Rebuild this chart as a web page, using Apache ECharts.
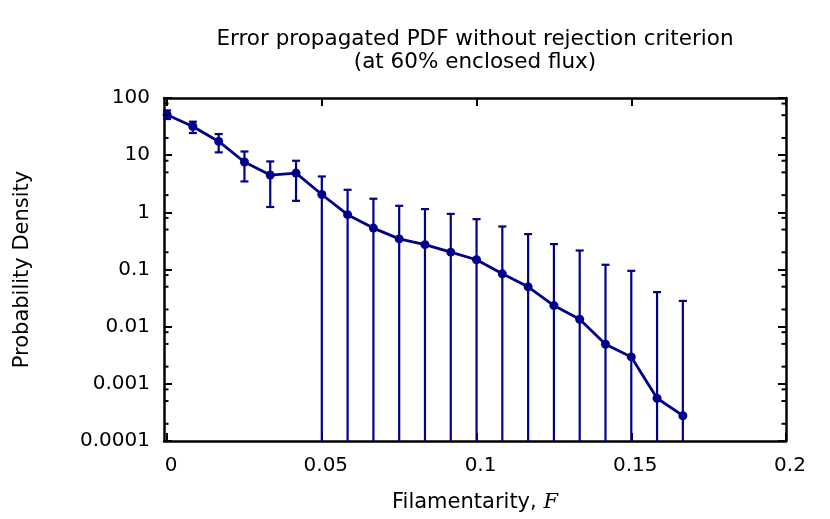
<!DOCTYPE html>
<html><head><meta charset="utf-8">
<script src="https://cdn.jsdelivr.net/npm/echarts@6/dist/echarts.min.js"></script>
<style>html,body{margin:0;padding:0;background:#fff}#c{width:830px;height:519px}</style>
</head><body><div id="c"></div>
<script>
// ---- data ----
const filamentarity = [0, 0.00833, 0.01667, 0.025, 0.03333, 0.04167, 0.05, 0.05833, 0.06667, 0.075, 0.08333,
  0.09167, 0.1, 0.10833, 0.11667, 0.125, 0.13333, 0.14167, 0.15, 0.15833, 0.16667];
const density = [51, 31.8, 17.4, 7.6, 4.49, 4.86, 2.05, 0.91, 0.53, 0.343, 0.272,
  0.201, 0.148, 0.084, 0.0497, 0.0234, 0.0135, 0.00493, 0.00296, 0.00056, 0.000277];
const upperBound = [60.7, 38.5, 23.4, 11.6, 7.77, 7.98, 4.24, 2.48, 1.73, 1.3, 1.14,
  0.94, 0.76, 0.565, 0.416, 0.278, 0.215, 0.121, 0.0948, 0.0402, 0.0282];
// null = lower error bound falls below the plotted range
const lowerBound = [42.9, 24.4, 11.2, 3.47, 1.24, 1.59, null, null, null, null, null,
  null, null, null, null, null, null, null, null, null, null];
const xTickValues = [0, 0.05, 0.1, 0.15, 0.2];
const xTickLabels = ['0', '0.05', '0.1', '0.15', '0.2'];
const yTickValues = [0.0001, 0.001, 0.01, 0.1, 1, 10, 100];
const yTickLabels = ['0.0001', '0.001', '0.01', '0.1', '1', '10', '100'];
const yMinorTicks = [0.0002, 0.0005, 0.0008, 0.002, 0.005, 0.008, 0.02, 0.05, 0.08,
  0.2, 0.5, 0.8, 2, 5, 8, 20, 50, 80];
const titleText = 'Error propagated PDF without rejection criterion\n(at 60% enclosed flux)';

const COLOR = '#00008b';
const FONT = 'DejaVu Sans';
const X_MIN = -0.001, X_MAX = 0.2, Y_MIN = 0.0001, Y_MAX = 100;

const chart = echarts.init(document.getElementById('c'), null, {renderer: 'canvas'});

function yLabel(v) {
  let best = 0, bd = Infinity;
  yTickValues.forEach((t, i) => { const d = Math.abs(Math.log10(t) - Math.log10(v)); if (d < bd) { bd = d; best = i; } });
  return yTickLabels[best];
}
function xLabel(v) {
  let best = 0, bd = Infinity;
  xTickValues.forEach((t, i) => { const d = Math.abs(t - v); if (d < bd) { bd = d; best = i; } });
  return xTickLabels[best];
}

const frameLine = {show: true, onZero: false, lineStyle: {color: '#000', width: 2.5}};

const option = {
  animation: false,
  backgroundColor: '#fff',
  graphic: [{
    type: 'text', x: 475, y: 28,
    style: {text: titleText, textAlign: 'center', textVerticalAlign: 'top',
      fontFamily: FONT, fontSize: 21.5, lineHeight: 23, fill: '#000'}
  }],
  grid: {left: 164, right: 44, top: 98, bottom: 78, containLabel: false},
  xAxis: [{
    type: 'value', position: 'bottom', min: X_MIN, max: X_MAX,
    axisLine: frameLine,
    axisTick: {show: true, inside: true, length: 8, customValues: xTickValues, lineStyle: {color: '#000', width: 2}},
    axisLabel: {show: true, customValues: xTickValues, formatter: xLabel, margin: 15,
      padding: [0, 0, 0, 8],
      fontFamily: FONT, fontSize: 20, color: '#000'},
    splitLine: {show: false},
    name: 'Filamentarity, {f|F}', nameLocation: 'middle', nameGap: 51,
    nameTextStyle: {fontFamily: FONT, fontSize: 21, color: '#000',
      rich: {f: {fontFamily: 'DejaVu Serif', fontStyle: 'italic', fontSize: 21, color: '#000'}}}
  }, {
    type: 'value', position: 'top', min: X_MIN, max: X_MAX,
    axisLine: frameLine,
    axisTick: {show: true, inside: true, length: 8, customValues: xTickValues, lineStyle: {color: '#000', width: 2}},
    axisLabel: {show: false}, splitLine: {show: false}
  }],
  yAxis: [{
    type: 'log', logBase: 10, position: 'left', min: Y_MIN, max: Y_MAX,
    axisLine: frameLine,
    axisTick: {show: true, inside: true, length: 8, lineStyle: {color: '#000', width: 2}},
    axisLabel: {show: true, formatter: yLabel, margin: 14, fontFamily: FONT, fontSize: 20, color: '#000'},
    minorTick: {show: false}, splitLine: {show: false},
    name: 'Probability Density', nameLocation: 'middle', nameGap: 131, nameRotate: 90,
    nameTextStyle: {fontFamily: FONT, fontSize: 21, color: '#000'}
  }, {
    type: 'log', logBase: 10, position: 'right', min: Y_MIN, max: Y_MAX,
    axisLine: frameLine,
    axisTick: {show: true, inside: true, length: 8, lineStyle: {color: '#000', width: 2}},
    axisLabel: {show: false}, splitLine: {show: false}
  }],
  series: [{
    // minor ticks on the log axis (at 2, 5, 8 per decade), left and right
    type: 'custom', xAxisIndex: 0, yAxisIndex: 0, silent: true, z: 5,
    data: yMinorTicks.map(v => [X_MIN, v]),
    encode: {x: 0, y: 1},
    renderItem: function (params, api) {
      const cs = params.coordSys;
      const y = api.coord([X_MIN, api.value(1)])[1];
      const st = {stroke: '#000', lineWidth: 2};
      return {type: 'group', children: [
        {type: 'line', shape: {x1: cs.x, y1: y, x2: cs.x + 4.5, y2: y}, style: st},
        {type: 'line', shape: {x1: cs.x + cs.width - 4.5, y1: y, x2: cs.x + cs.width, y2: y}, style: st}
      ]};
    }
  }, {
    // error bars
    type: 'custom', xAxisIndex: 0, yAxisIndex: 0, silent: true, z: 3,
    data: filamentarity.map((x, i) => [x, upperBound[i], lowerBound[i] == null ? '-' : lowerBound[i]]),
    encode: {x: 0, y: 1},
    renderItem: function (params, api) {
      const cs = params.coordSys;
      const x = api.value(0);
      const top = api.coord([x, api.value(1)]);
      const lo = api.value(2);
      const hasLow = typeof lo === 'number' && !isNaN(lo);
      const yBot = hasLow ? api.coord([x, lo])[1] : cs.y + cs.height;
      const cw = 4;
      const st = {stroke: COLOR, lineWidth: 2.2};
      const children = [
        {type: 'line', shape: {x1: top[0], y1: top[1], x2: top[0], y2: yBot}, style: st},
        {type: 'line', shape: {x1: top[0] - cw, y1: top[1], x2: top[0] + cw, y2: top[1]}, style: st}
      ];
      if (hasLow) children.push({type: 'line', shape: {x1: top[0] - cw, y1: yBot, x2: top[0] + cw, y2: yBot}, style: st});
      return {type: 'group', children: children};
    }
  }, {
    type: 'line', xAxisIndex: 0, yAxisIndex: 0, z: 4,
    data: filamentarity.map((x, i) => [x, density[i]]),
    symbol: 'circle', symbolSize: 9, showSymbol: true,
    lineStyle: {color: COLOR, width: 2.8},
    itemStyle: {color: COLOR},
    emphasis: {disabled: true}
  }]
};
chart.setOption(option);
</script>
</body></html>
